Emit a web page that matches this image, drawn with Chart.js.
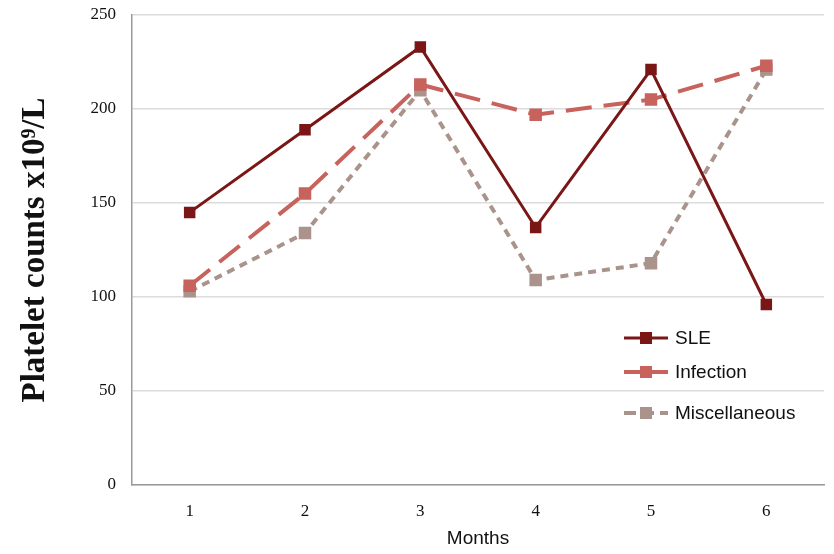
<!DOCTYPE html>
<html>
<head>
<meta charset="utf-8">
<script src="https://cdn.jsdelivr.net/npm/chart.js@4/dist/chart.umd.min.js"></script>
<style>
  html,body{margin:0;padding:0;background:#fff;}
  #wrap{width:834px;height:554px;position:relative;}
</style>
</head>
<body>
<div id="wrap"><canvas id="c"></canvas></div>
<script>
const months = ['1','2','3','4','5','6'];
const sle = [145, 189, 233, 137, 221, 96];
const infection = [106, 155, 213, 197, 205, 223];
const misc = [103, 134, 210, 109, 118, 221];
const yTicks = [0, 50, 100, 150, 200, 250];

// draws the legend box inside the plot, lower right
const innerLegend = {
  id: 'innerLegend',
  afterDraw(chart) {
    const ctx = chart.ctx;
    const rows = [338, 372, 413];
    chart.data.datasets.forEach((ds, i) => {
      const y = rows[i], x0 = 624, x1 = 668;
      ctx.save();
      ctx.strokeStyle = ds.borderColor;
      ctx.lineWidth = ds.borderWidth;
      ctx.setLineDash(ds.legendDash || []);
      ctx.beginPath(); ctx.moveTo(x0, y); ctx.lineTo(x1, y); ctx.stroke();
      ctx.setLineDash([]);
      ctx.fillStyle = ds.pointBackgroundColor;
      ctx.fillRect(640, y - 6, 12, 12);
      ctx.fillStyle = '#111';
      ctx.font = '19px "Liberation Sans", Arial, sans-serif';
      ctx.textBaseline = 'middle';
      ctx.fillText(ds.label, 675, y + 1);
      ctx.restore();
    });
  }
};

new Chart(document.getElementById('c'), {
  type: 'line',
  data: {
    labels: months,
    datasets: [
      {label: 'SLE', data: sle, borderColor: '#7a1616', pointBackgroundColor: '#7a1616', pointBorderColor: '#7a1616',
       borderWidth: 3, pointStyle: 'rect', pointRadius: 6, tension: 0, legendDash: []},
      {label: 'Infection', data: infection, borderColor: '#c7625c', pointBackgroundColor: '#c7625c', pointBorderColor: '#c7625c',
       borderWidth: 4, borderDash: [26, 12], pointStyle: 'rect', pointRadius: 6, tension: 0, legendDash: []},
      {label: 'Miscellaneous', data: misc, borderColor: '#a9938b', pointBackgroundColor: '#a9938b', pointBorderColor: '#a9938b',
       borderWidth: 4, borderDash: [8, 6], pointStyle: 'rect', pointRadius: 6, tension: 0, legendDash: [12, 6]}
    ]
  },
  options: {
    responsive: true, maintainAspectRatio: false, animation: false,
    layout: {padding: {top: 15, right: 4, left: 12, bottom: 0}},
    plugins: {legend: {display: false}, tooltip: {enabled: false}},
    scales: {
      x: {
        offset: true,
        grid: {display: false, drawTicks: false},
        border: {display: true, color: '#9a9a9a', width: 1.5},
        ticks: {color: '#111', padding: 16, font: {family: '"Liberation Serif", "Times New Roman", serif', size: 17}},
        title: {display: true, text: 'Months', color: '#111', padding: {top: 6},
                font: {family: '"Liberation Sans", Arial, sans-serif', size: 19}},
        afterFit: s => { s.height = 69; s.paddingLeft = 0; s.paddingRight = 0; }
      },
      y: {
        min: 0, max: 250,
        afterBuildTicks: s => { s.ticks = yTicks.map(v => ({value: v})); },
        grid: {color: '#dcdcdc', lineWidth: 1.5, drawTicks: false},
        border: {display: true, color: '#9a9a9a', width: 1.5},
        ticks: {color: '#111', padding: 16, font: {family: '"Liberation Serif", "Times New Roman", serif', size: 17}},
        title: {display: true, text: 'Platelet counts x10⁹/L', color: '#111', padding: {bottom: 14},
                font: {family: '"Liberation Serif", "Times New Roman", serif', size: 33, weight: 'bold'}},
        afterFit: s => { s.width = 120; s.paddingTop = 0; s.paddingBottom = 0; }
      }
    }
  },
  plugins: [innerLegend]
});
</script>
</body>
</html>
